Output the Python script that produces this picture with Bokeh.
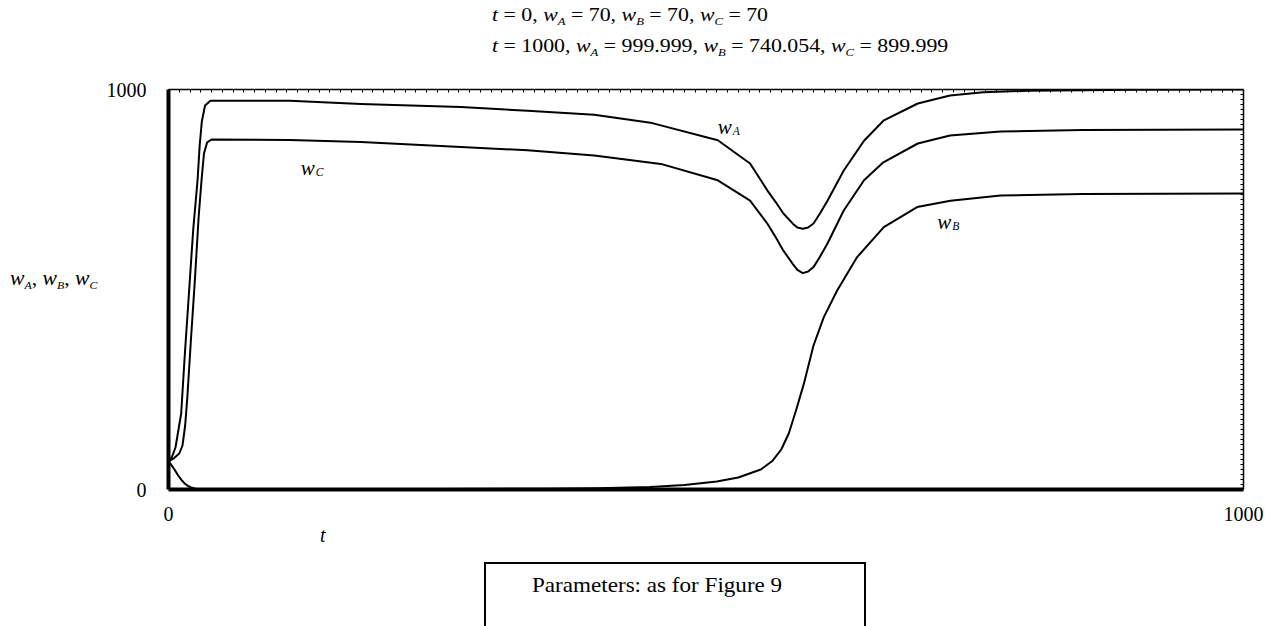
from bokeh.plotting import figure
from bokeh.models import Range1d, LinearAxis, FixedTicker, Label, Div
from bokeh.layouts import column, row
from bokeh.embed import file_html
from bokeh.resources import INLINE

# ---------------- data ----------------
t_start, wA_start, wB_start, wC_start = 0, 70, 70, 70
t_end, wA_end, wB_end, wC_end = 1000, 999.999, 740.054, 899.999

t_A = [0, 3, 6.5, 11.8, 15, 19.8, 23, 27, 29, 31, 34, 39, 113, 179, 272, 334, 396,
       450, 511, 541, 557, 565, 572, 581, 585, 590, 595, 600, 606, 613, 628, 647, 665,
       697, 727, 758, 800, 900, 1000]
w_A = [wA_start, 80, 105, 190, 330, 522, 650, 772, 860, 920, 960, 972, 972, 964, 956,
       947, 937, 916, 873, 815, 748, 718, 690, 664, 655, 652, 655, 665, 690, 722, 797,
       872, 922, 965, 985, 993, 997, 999.5, wA_end]

t_B = [0, 3, 6, 9, 12, 15, 18, 21, 25, 30, 60, 150, 250, 350, 400, 448, 480, 510, 530,
       551, 562, 570, 577, 584, 591, 600, 609.6, 622, 640.6, 665.4, 696.4, 727.4, 774,
       850, 1000]
w_B = [wB_start, 60, 48, 35, 24, 15, 9, 5, 2, 1, 0.5, 0.5, 1, 2, 3, 6, 11, 20, 30,
       50, 72, 100, 140, 200, 264, 360, 431, 497.5, 581, 656, 706, 722, 735, 739, wB_end]

t_C = [0, 5, 10, 13, 15.5, 17.5, 21, 24.5, 28, 30.7, 33, 36, 40, 113, 179, 272, 334,
       396, 458, 511, 541, 557, 565, 572, 581, 585, 590, 595, 600, 606, 613, 628, 647,
       665, 697, 727, 774, 850, 1000]
w_C = [wC_start, 78, 90, 110, 160, 230, 380, 522, 680, 772, 840, 868, 875, 874, 869,
       856, 848, 835, 814, 773, 722, 665, 630, 597, 563, 549, 541, 545, 556, 582, 615,
       697, 773, 818, 865, 885, 895, 899, wC_end]

x_ticks = [0, 1000]
y_ticks = [0, 1000]
note_text = "Parameters: as for Figure 9"

FONT = "Liberation Serif"
CSSFONT = "Liberation Serif, Times New Roman, serif"

# ---------------- figure ----------------
p = figure(width=1176, height=457, output_backend="svg", toolbar_location=None,
           x_range=Range1d(0, 1000), y_range=Range1d(0, 1000),
           x_axis_location=None, y_axis_location=None,
           min_border_left=68, min_border_right=33,
           min_border_top=21, min_border_bottom=36)
p.margin = 0
p.grid.visible = False
p.outline_line_color = None
p.background_fill_color = "white"
p.border_fill_color = "white"

def main_axis(ticks, standoff):
    ax = LinearAxis(ticker=FixedTicker(ticks=ticks))
    ax.axis_line_width = 4
    ax.axis_line_color = "black"
    ax.major_tick_in = 0
    ax.major_tick_out = 0
    ax.minor_tick_in = 0
    ax.minor_tick_out = 0
    ax.major_label_text_font = FONT
    ax.major_label_text_font_size = "20px"
    ax.major_label_text_color = "black"
    ax.major_label_standoff = standoff
    return ax

p.add_layout(main_axis(y_ticks, 22), "left")
p.add_layout(main_axis(x_ticks, 17), "below")

def frame_axis(minor):
    ax = LinearAxis(ticker=FixedTicker(ticks=[], minor_ticks=minor))
    ax.axis_line_width = 1.5
    ax.axis_line_color = "black"
    ax.major_tick_in = 0
    ax.major_tick_out = 0
    ax.minor_tick_in = 3
    ax.minor_tick_out = 0
    ax.minor_tick_line_color = "black"
    ax.minor_tick_line_width = 1
    return ax

p.add_layout(frame_axis([i * 10 for i in range(101)]), "above")
p.add_layout(frame_axis([i * 12.5 for i in range(81)]), "right")

# ---------------- curves ----------------
for tt, ww in ((t_A, w_A), (t_B, w_B), (t_C, w_C)):
    p.line(tt, ww, line_width=2, line_color="black", line_join="round")

# ---------------- in-plot curve labels ----------------
def wlabel(x, y, sub):
    p.add_layout(Label(x=x, y=y, text="w", text_font=FONT, text_font_size="21px",
                       text_font_style="italic", text_color="black",
                       text_baseline="alphabetic", text_align="left"))
    p.add_layout(Label(x=x, y=y, x_offset=15, y_offset=-4, text=sub, text_font=FONT,
                       text_font_size="11.5px", text_font_style="italic",
                       text_color="black", text_baseline="alphabetic",
                       text_align="left"))

wlabel(511, 907, "A")
wlabel(715, 670, "B")
wlabel(123, 805, "C")

# ---------------- HTML text pieces ----------------
def fmt(v):
    return f"{v:g}" if isinstance(v, int) else f"{v:.3f}"

SUB = ("<span style=\"font-family:" + CSSFONT + ";font-size:11px;font-style:italic;"
       "position:relative;top:4px;\">{}</span>")
IT = "<i style=\"font-family:" + CSSFONT + ";\">{}</i>"

def w_eq(sub, val, last=False):
    return IT.format("w") + SUB.format(sub) + " = " + fmt(val) + ("" if last else ", ")

def title_line(tv, a, b, c):
    return (IT.format("t") + " = " + fmt(tv) + ", " + w_eq("A", a) + w_eq("B", b)
            + w_eq("C", c, True))

def abs_text(left, top, size, html, sx=1.0):
    return (f"<div style=\"position:absolute;left:{left}px;top:{top}px;"
            f"font-family:{CSSFONT};color:black;"
            f"font-size:{size}px;line-height:{size}px;white-space:nowrap;"
            f"transform:scaleX({sx});transform-origin:left top;\">{html}</div>")

def box(w, h, inner):
    return (f"<div style=\"position:relative;width:{w}px;height:{h}px;"
            f"font-family:{CSSFONT};color:black;\">{inner}</div>")

DIVSTYLE = {"font-family": CSSFONT, "color": "black"}

top_html = box(1276, 68,
               abs_text(492, 5, 19, title_line(t_start, wA_start, wB_start, wC_start), 1.15)
               + abs_text(492, 36, 19, title_line(t_end, wA_end, wB_end, wC_end), 1.15))
top_div = Div(text=top_html, width=1276, height=68, margin=0, styles=DIVSTYLE)

ylab_html = (IT.format("w") + SUB.format("A") + ", " + IT.format("w") + SUB.format("B")
             + ", " + IT.format("w") + SUB.format("C"))
ylab_div = Div(text=box(100, 457, abs_text(10, 200, 20, ylab_html, 1.08)),
               width=100, height=457, margin=0, styles=DIVSTYLE)

note_box = ("<div style=\"position:absolute;left:484px;top:37px;width:382px;height:64px;"
            "box-sizing:border-box;border:2px solid black;border-bottom:none;\"></div>")
bottom_html = box(1276, 101,
                  abs_text(320, 0, 20, IT.format("t"))
                  + note_box
                  + abs_text(532, 50, 21, note_text, 1.1))
bottom_div = Div(text=bottom_html, width=1276, height=101, margin=0, styles=DIVSTYLE)

layout = column(top_div, row(ylab_div, p, spacing=0, margin=0),
                bottom_div, spacing=0, margin=0)

open("out.html", "w").write(file_html(layout, INLINE))
